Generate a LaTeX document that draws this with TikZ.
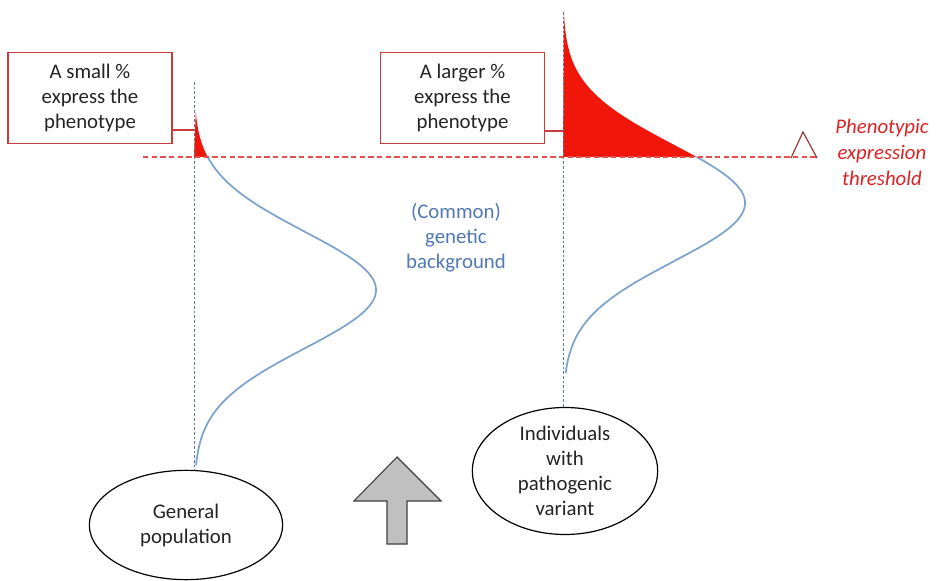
\documentclass[tikz,border=0pt]{standalone}
\usepackage{fontspec}
\setmainfont{Carlito}
\usetikzlibrary{shapes.geometric}
\definecolor{boxred}{RGB}{200,60,60}
\definecolor{fillred}{RGB}{240,22,10}
\definecolor{thrred}{RGB}{228,80,80}
\definecolor{curveblue}{RGB}{125,162,205}
\definecolor{vlineblue}{RGB}{95,120,160}
\definecolor{txtblue}{RGB}{80,120,180}
\definecolor{txtred}{RGB}{220,35,35}
\definecolor{triedge}{RGB}{150,55,55}
\definecolor{arrowgray}{RGB}{192,192,192}
\definecolor{txtdark}{RGB}{35,35,35}
\begin{document}
\begin{tikzpicture}[x=0.75pt,y=-0.75pt,
  lbl/.style={align=center,font=\fontsize{15.6}{18.8}\selectfont,text=txtdark},
  redbox/.style={draw=boxred,line width=1pt,minimum width=123pt,minimum height=68pt,inner sep=0pt},
  ell/.style={ellipse,draw=black,line width=0.9pt,inner sep=0pt},
  vdash/.style={draw=vlineblue,dash pattern=on 2pt off 1.5pt,line width=0.7pt},
  thr/.style={draw=thrred,dash pattern=on 4pt off 2.5pt,line width=0.9pt},
  curve/.style={draw=curveblue,line width=1.3pt},
  conn/.style={draw=boxred,line width=0.9pt}]
\useasboundingbox (0,0) rectangle (939,581);

% red tails (filled)
\fill[fillred] (194,157) -- plot[domain=157:112,samples=60,variable=\t]
  ({194+182*exp(-0.5*((\t-290)/58.5)^2)},\t) -- cycle;
\fill[fillred] (563,157) -- plot[domain=157:12,samples=100,variable=\t]
  ({563+182*exp(-0.5*((\t-203)/58.5)^2)},\t) -- cycle;

% blue curves
\draw[curve] plot[domain=157:465,samples=150,variable=\t]
  ({194+182*exp(-0.5*((\t-290)/58.5)^2)},\t);
\draw[curve] plot[domain=157:373,samples=120,variable=\t]
  ({563+182*exp(-0.5*((\t-203)/58.5)^2)},\t);

% boxes
\node[redbox,lbl] (lbox) at (90,98) {A small \%\\express the\\phenotype};
\node[redbox,lbl] (rbox) at (462.5,98) {A larger \%\\express the\\phenotype};

% ellipses
\node[ell,lbl,minimum width=145pt,minimum height=82pt] (gp) at (186,525) {General\\population};
\node[ell,lbl,minimum width=139pt,minimum height=84pt] (pv) at (565,471) {Individuals\\with\\pathogenic\\variant};

% vertical dashed lines
\coordinate (ltop) at (194,82);
\coordinate (rtop) at (563,12);
\draw[vdash] (ltop) -- (ltop |- gp.north);
\draw[vdash] (rtop) -- (rtop |- pv.north);

% connectors from boxes
\coordinate (lc) at (194,130);
\coordinate (rc) at (563,131);
\draw[conn] (lbox.east |- lc) -- (lc);
\draw[conn] (rbox.east |- rc) -- (rc);

% threshold triangle and line
\coordinate (ta) at (803,132);
\coordinate (tl) at (791,158);
\coordinate (tr) at (817,158);
\draw[draw=triedge,line width=0.9pt,line join=miter] (tl) -- (ta) -- (tr);
\coordinate (thl) at (143,157);
\draw[thr] (thl) -- (tr |- thl);

\node[lbl,text=txtred,font=\fontsize{15.6}{19.5}\selectfont\itshape] (thtxt) at (882,152) {Phenotypic\\expression\\threshold};

% genetic background label
\node[lbl,text=txtblue] (gb) at (456,238) {(Common)\\genetic\\background};

% gray arrow
\draw[fill=arrowgray,draw=black!75,line width=0.8pt]
  (397,457) -- (441,501) -- (407,501) -- (407,544) -- (387,544) -- (387,501) -- (354,501) -- cycle;
\end{tikzpicture}
\end{document}
